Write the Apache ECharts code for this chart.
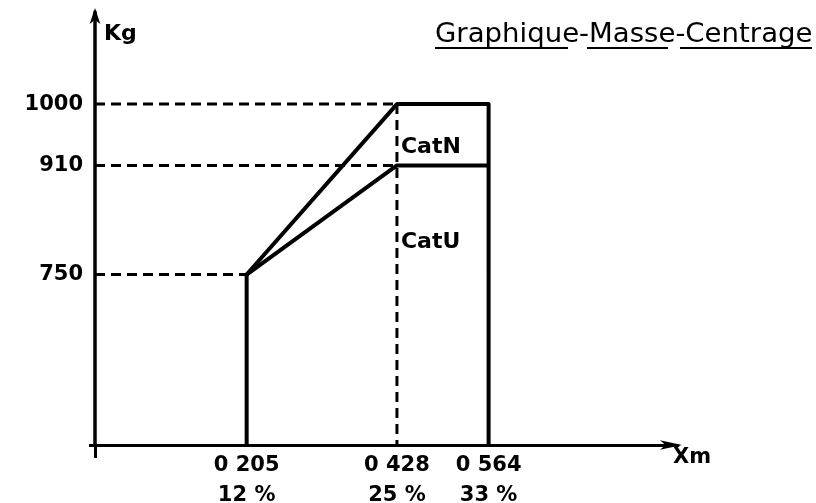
<!DOCTYPE html>
<html>
<head>
<meta charset="utf-8">
<script src="https://cdn.jsdelivr.net/npm/echarts@6/dist/echarts.min.js"></script>
<style>
html,body{margin:0;padding:0;background:#fff;}
#c{width:816px;height:503px;}
</style>
</head>
<body>
<div id="c"></div>
<script>
// ---- data ----
const xTicks = [0.205, 0.428, 0.564];
const xTickLabels = ['0 205', '0 428', '0 564'];
const xPctLabels = ['12 %', '25 %', '33 %'];
const yTicks = [750, 910, 1000];
const yTickLabels = ['750', '910', '1000'];
// Cat N envelope (normal category)
const catNx = [0.205, 0.205, 0.428, 0.564, 0.564];
const catNy = [500, 750, 1000, 1000, 500];
// Cat U envelope (utility category)
const catUx = [0.205, 0.428, 0.564];
const catUy = [750, 910, 910];
const catNames = ['CatN', 'CatU'];
const title = 'Graphique-Masse-Centrage';

const xMin = -0.02, xMax = 0.845, yMin = 500, yMax = 1135;
const ink = '#000';
const FONT = 'DejaVu Sans';

const zip = (a, b) => a.map((v, i) => [v, b[i]]);

const dashStyle = { color: ink, width: 3, type: [10, 6] };
function dashSeries(pts) {
  return { type: 'line', data: pts, symbol: 'none', silent: true,
    lineStyle: dashStyle, z: 1, animation: false };
}

const chart = echarts.init(document.getElementById('c'), null, { renderer: 'canvas' });
chart.setOption({
  animation: false,
  backgroundColor: '#fff',
  grid: { left: 95, top: 12, right: 138, bottom: 58, containLabel: false,
    outerBoundsMode: 'none' },
  xAxis: {
    type: 'value', min: xMin, max: xMax,
    splitLine: { show: false },
    axisLine: { onZero: false, lineStyle: { color: ink, width: 3 },
      symbol: ['none', 'arrow'], symbolSize: [7, 22], symbolOffset: [0, 4] },
    axisTick: { show: true, customValues: [xMin], length: 13, inside: false,
      lineStyle: { color: ink, width: 3 } },
    axisLabel: {
      customValues: xTicks, margin: 6, color: ink, fontFamily: FONT, fontSize: 21,
      fontWeight: 'bold', lineHeight: 30,
      formatter: (v) => {
        const i = xTicks.findIndex(t => Math.abs(t - v) < 1e-6);
        return i < 0 ? '' : xTickLabels[i] + '\n' + xPctLabels[i];
      }
    }
  },
  yAxis: {
    type: 'value', min: yMin, max: yMax,
    splitLine: { show: false },
    axisLine: { onZero: false, lineStyle: { color: ink, width: 3.5 },
      symbol: ['none', 'arrow'], symbolSize: [8, 16], symbolOffset: [0, 4] },
    axisTick: { show: true, customValues: [yMin], length: 6, inside: false,
      lineStyle: { color: ink, width: 3 } },
    axisLabel: {
      customValues: yTicks, margin: 12, color: ink, fontFamily: FONT, fontSize: 21,
      fontWeight: 'bold',
      formatter: (v) => {
        const i = yTicks.findIndex(t => Math.abs(t - v) < 1e-6);
        return i < 0 ? '' : yTickLabels[i];
      }
    }
  },
  series: [
    dashSeries([[xMin, yTicks[2]], [xTicks[1], yTicks[2]]]),
    dashSeries([[xMin, yTicks[1]], [xTicks[1], yTicks[1]]]),
    dashSeries([[xMin, yTicks[0]], [xTicks[0], yTicks[0]]]),
    dashSeries([[xTicks[1], yTicks[2]], [xTicks[1], yMin]]),
    { type: 'line', name: catNames[0], data: zip(catNx, catNy), symbol: 'none',
      lineStyle: { color: ink, width: 4, join: 'round' }, z: 3 },
    { type: 'line', name: catNames[1], data: zip(catUx, catUy), symbol: 'none',
      lineStyle: { color: ink, width: 4, join: 'round' }, z: 3 },
    { type: 'scatter', symbolSize: 0, silent: true, z: 4,
      data: [[xTicks[1], 937, catNames[0]], [xTicks[1], 797, catNames[1]]],
      label: { show: true, position: 'right', distance: 4, color: ink,
        fontFamily: FONT, fontSize: 22, fontWeight: 'bold',
        formatter: (p) => p.data[2] },
      itemStyle: { opacity: 1 }, emphasis: { disabled: true } }
  ],
  graphic: [
    { type: 'text', left: 104, top: 23,
      style: { text: 'Kg', font: 'bold 22px "' + FONT + '"', fill: ink } },
    { type: 'text', left: 673, top: 447,
      style: { text: 'Xm', font: 'bold 21px "' + FONT + '"', fill: ink } },
    { type: 'text', x: 435, y: 22, scaleX: 1.06,
      style: { text: title, font: '26px "' + FONT + '"', fill: ink,
        textAlign: 'left', textVerticalAlign: 'top' } },
    { type: 'line', shape: { x1: 435, y1: 48, x2: 568, y2: 48 },
      style: { stroke: ink, lineWidth: 1.8 } },
    { type: 'line', shape: { x1: 587, y1: 48, x2: 668, y2: 48 },
      style: { stroke: ink, lineWidth: 1.8 } },
    { type: 'line', shape: { x1: 680, y1: 48, x2: 812, y2: 48 },
      style: { stroke: ink, lineWidth: 1.8 } }
  ]
});
</script>
</body>
</html>
